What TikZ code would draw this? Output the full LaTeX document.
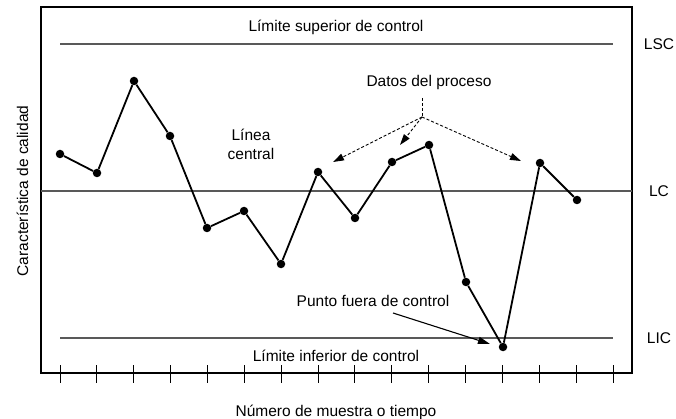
\documentclass[tikz,border=0pt]{standalone}
\usepackage{fontspec}
\setmainfont{Liberation Sans}
\usetikzlibrary{arrows,arrows.meta,shapes,positioning,calc}

\tikzset{
  dato/.style={shape=circle,fill=black,inner sep=0pt,minimum size=8.5pt},
  limite/.style={draw=black!65,line width=1.1pt},
  etiqueta/.style={font=\fontsize{15.5}{19}\selectfont,inner sep=0pt,anchor=base},
  indica/.style={-{Triangle[length=11pt,width=7pt]},densely dashed,line width=0.9pt}
}

\begin{document}
\begin{tikzpicture}[x=1pt,y=-1pt]
\useasboundingbox (0,0) rectangle (676,419);
% marco y limites
\draw[line width=1.3pt] (41,7) rectangle (632,373);
\draw[limite] (60,44) -- (613,44);
\draw[limite] (41,191) -- (632,191);
\draw[limite] (60,338) -- (613,338);
\foreach \i in {0,...,15}
  \draw[line width=1pt] ({60+\i*36.87},365) -- ({60+\i*36.87},383);

% textos
\node[etiqueta](sup) at (336,32) {Límite superior de control};
\node[etiqueta](inf) at (336,361) {Límite inferior de control};
\node[etiqueta](lsc) at (659,49.5) {LSC};
\node[etiqueta](lc) at (659,196.5) {LC};
\node[etiqueta](lic) at (659,343.5) {LIC};
\node[etiqueta,align=center](central) at (251,159.5) {Línea\\central};
\node[etiqueta](datos) at (429,87) {Datos del proceso};
\node[etiqueta](punto) at (373,306) {Punto fuera de control};
\node[etiqueta](xlab) at (336,416) {Número de muestra o tiempo};
\node[etiqueta,rotate=90](ylab) at (28,191) {Característica de calidad};

% datos
\node[dato](p1) at (60,154) {};
\node[dato](p2) at (97,173) {};
\node[dato](p3) at (134,81) {};
\node[dato](p4) at (170,136) {};
\node[dato](p5) at (207,228) {};
\node[dato](p6) at (244,211) {};
\node[dato](p7) at (281,264) {};
\node[dato](p8) at (318,172) {};
\node[dato](p9) at (355,218) {};
\node[dato](p10) at (392,162) {};
\node[dato](p11) at (429,145) {};
\node[dato](p12) at (466,282) {};
\node[dato](p13) at (503,347) {};
\node[dato](p14) at (540,163) {};
\node[dato](p15) at (577,200) {};
\draw[line width=1.8pt] (p1) -- (p2) -- (p3) -- (p4) -- (p5) -- (p6) -- (p7) -- (p8)
  -- (p9) -- (p10) -- (p11) -- (p12) -- (p13) -- (p14) -- (p15);

% flechas
\coordinate (tope) at (422,98);
\coordinate (rama) at (422,117);
\coordinate (t1) at (333,162);
\coordinate (t2) at (400,145);
\coordinate (t3) at (521,161);
\draw[densely dashed,line width=0.9pt] (tope) -- (rama);
\draw[indica] (rama) -- (t1);
\draw[indica] (rama) -- (t2);
\draw[indica] (rama) -- (t3);
\coordinate (desde) at (393,313);
\coordinate (hasta) at (490,344);
\draw[-{Triangle[length=12pt,width=7pt]},line width=1.1pt] (desde) -- (hasta);
\end{tikzpicture}
\end{document}
